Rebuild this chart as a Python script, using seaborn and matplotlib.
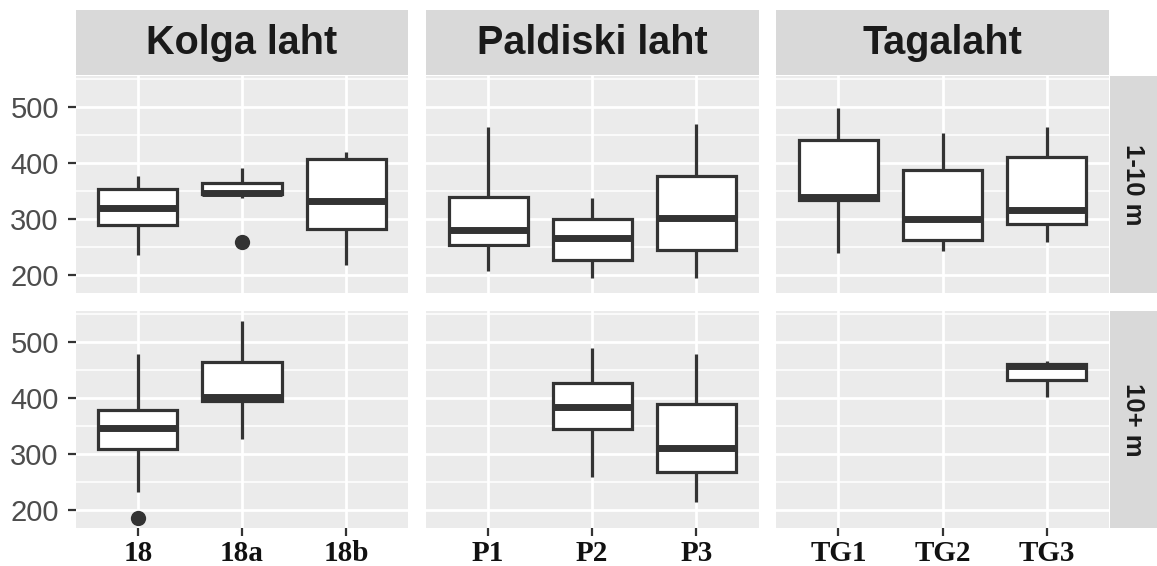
import numpy as np
import pandas as pd
import matplotlib
matplotlib.use("Agg")
import matplotlib.pyplot as plt
from matplotlib.ticker import FixedLocator
import seaborn as sns

# ---- data -------------------------------------------------------------
sites = ["Kolga laht", "Paldiski laht", "Tagalaht"]
site_stations = [["18", "18a", "18b"], ["P1", "P2", "P3"], ["TG1", "TG2", "TG3"]]
depths = ["1-10 m", "10+ m"]

# five-number summaries of each box
box_station = ["18", "18a", "18b", "P1", "P2", "P3", "TG1", "TG2", "TG3",
               "18", "18a", "P2", "P3", "TG3"]
box_depth = ["1-10 m"] * 9 + ["10+ m"] * 5
whisker_low = [236, 338, 219, 207, 195, 196, 239, 243, 259, 233, 326, 260, 215, 401]
quartile_1 = [289, 344, 283, 253, 227, 245, 334, 262, 292, 309, 395, 344, 268, 431]
medians = [320, 346, 332, 280, 267, 302, 339, 300, 317, 347, 401, 384, 311, 456]
quartile_3 = [354, 365, 406, 340, 300, 377, 441, 387, 410, 379, 464, 426, 389, 461]
whisker_high = [377, 391, 420, 463, 338, 469, 497, 453, 463, 478, 537, 488, 478, 466]

# points beyond the whiskers
outlier_station = ["18a", "18"]
outlier_depth = ["1-10 m", "10+ m"]
outlier_value = [259, 186]

y_major = [200, 300, 400, 500]
y_minor = [250, 350, 450, 550]

# ---- tables -----------------------------------------------------------
station_site = {st: site for site, sts in zip(sites, site_stations) for st in sts}
rows = []
for i, st in enumerate(box_station):
    for v in (whisker_low[i], quartile_1[i], medians[i], quartile_3[i], whisker_high[i]):
        rows.append({"site": station_site[st], "station": st,
                     "depth": box_depth[i], "value": v})
boxes = pd.DataFrame(rows)
outliers = pd.DataFrame({"site": [station_site[s] for s in outlier_station],
                         "station": outlier_station, "depth": outlier_depth,
                         "value": outlier_value})

all_vals = np.concatenate([boxes["value"].values, outliers["value"].values])
span = all_vals.max() - all_vals.min()
ylim = (all_vals.min() - 0.05 * span, all_vals.max() + 0.05 * span)

# ---- style ------------------------------------------------------------
plt.rcParams["font.family"] = ["Liberation Sans", "DejaVu Sans"]
INK = "#333333"
PANEL = "#EBEBEB"
STRIP = "#D9D9D9"

W, H = 1157, 566
fig = plt.figure(figsize=(W / 100, H / 100), dpi=100)


def rect(left, top, w, h):
    return [left / W, 1 - (top + h) / H, w / W, h / H]


col_left = [75.5, 425.7, 776.0]
panel_w = 333.0
row_top = [76.0, 311.0]
panel_h = 217.0

for r, depth in enumerate(depths):
    for c, site in enumerate(sites):
        ax = fig.add_axes(rect(col_left[c], row_top[r], panel_w, panel_h))
        order = site_stations[c]
        sub = boxes[(boxes["site"] == site) & (boxes["depth"] == depth)]
        sns.boxplot(data=sub, x="station", y="value", order=order, ax=ax,
                    color="white", linecolor=INK, saturation=1, width=0.76,
                    linewidth=2.3, whis=(0, 100), showfliers=False,
                    medianprops={"linewidth": 5.0},
                    capprops={"visible": False})
        osub = outliers[(outliers["site"] == site) & (outliers["depth"] == depth)]
        if len(osub):
            sns.stripplot(data=osub, x="station", y="value", order=order, ax=ax,
                          jitter=False, color=INK, size=11, linewidth=0, zorder=4)

        ax.set_facecolor(PANEL)
        for s in ax.spines.values():
            s.set_visible(False)
        ax.set_xlim(-0.6, 2.6)
        ax.set_ylim(*ylim)
        ax.set_xlabel("")
        ax.set_ylabel("")
        ax.set_xticks(range(len(order)))
        ax.set_xticklabels(order, fontfamily="Liberation Serif", fontweight="bold",
                           fontsize=21, color="#111111")
        ax.yaxis.set_major_locator(FixedLocator(y_major))
        ax.yaxis.set_minor_locator(FixedLocator(y_minor))
        ax.set_yticklabels([str(v) for v in y_major], fontsize=21, color="#4D4D4D")
        ax.set_axisbelow(True)
        ax.grid(which="major", color="white", linewidth=2.0)
        ax.grid(which="minor", axis="y", color="white", linewidth=1.1)
        ax.tick_params(which="major", length=5.5, width=1.6, color=INK)
        ax.tick_params(axis="y", pad=6.5)
        ax.tick_params(axis="x", pad=3)
        ax.tick_params(which="minor", length=0)
        if c > 0:
            ax.tick_params(axis="y", left=False, labelleft=False)
        if r == 0:
            ax.tick_params(axis="x", bottom=False, labelbottom=False)


def strip(box, label, size, rotation=0):
    sax = fig.add_axes(box)
    sax.set_facecolor(STRIP)
    sax.set_xticks([])
    sax.set_yticks([])
    for s in sax.spines.values():
        s.set_visible(False)
    sax.text(0.5, 0.5, label, transform=sax.transAxes, ha="center", va="center",
             fontsize=size, fontweight="bold", color="#1A1A1A", rotation=rotation)


for c, site in enumerate(sites):
    strip(rect(col_left[c], 10.0, panel_w, 65.0), site, 28.5)
for r, depth in enumerate(depths):
    strip(rect(1109.5, row_top[r], 47.5, panel_h), depth, 18.5, rotation=270)

fig.savefig("out.png", dpi=100)
